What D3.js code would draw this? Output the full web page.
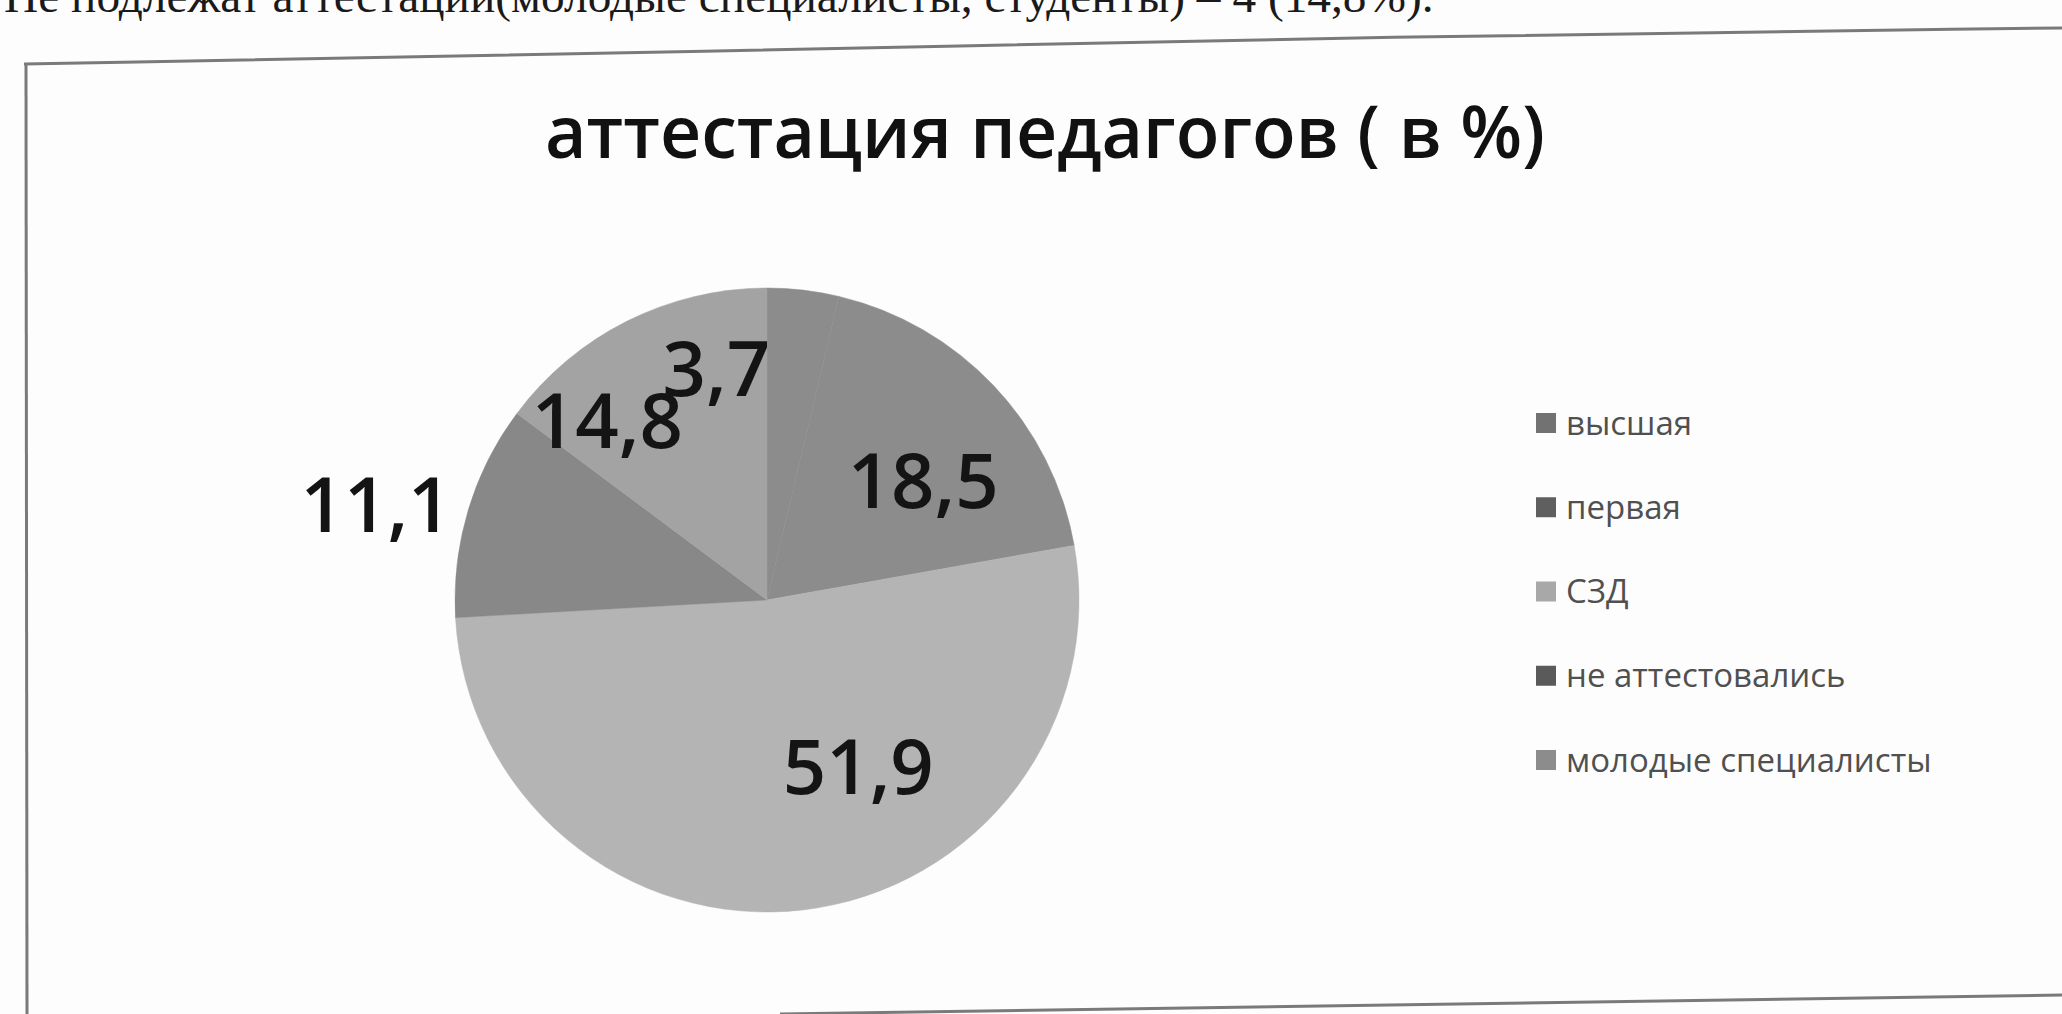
<!DOCTYPE html>
<html>
<head>
<meta charset="utf-8">
<script src="https://cdn.jsdelivr.net/npm/d3@7"></script>
<style>
  html, body { margin: 0; padding: 0; background: #fdfdfd; }
  svg { display: block; }
</style>
</head>
<body>
<svg id="chart" width="2062" height="1014"></svg>
<script>
// ---- data ----
const categories = ["высшая", "первая", "СЗД", "не аттестовались", "молодые специалисты"];
const values = [3.7, 18.5, 51.9, 11.1, 14.8];
const sliceColors = ["#8c8c8c", "#8c8c8c", "#b4b4b4", "#888888", "#a3a3a3"];
const legendColors = ["#727272", "#5f5f5f", "#a8a8a8", "#5a5a5a", "#8c8c8c"];
const chartTitle = "аттестация педагогов ( в %)";
const pageText = "Не подлежат аттестации(молодые специалисты, студенты) – 4 (14,8%).";

// ---- layout ----
const W = 2062, H = 1014;
const cx = 767, cy = 600, R = 312;
// per-slice label placement (Excel "best fit"): angle shift in degrees, radius factor
const labelShift = [-19, 6, -22, -3, -15];
const labelRadius = [0.76, 0.63, 0.61, 1.29, 0.77];

const svg = d3.select("#chart");

function fitWidth(t, target) {
  const w = t.node().getComputedTextLength();
  const fs = +t.attr("font-size");
  t.attr("font-size", fs * target / w);
}

// page text line above the chart (cut at the top edge as in the scan)
const pt = svg.append("text")
  .attr("x", 4).attr("y", 12)
  .attr("font-family", "'Liberation Serif', 'Times New Roman', serif")
  .attr("font-size", 48)
  .attr("fill", "#1a1a1a")
  .text(pageText);
fitWidth(pt, 1430);

// frame of the chart object (slightly skewed by the scan)
const frame = svg.append("g").attr("fill", "none").attr("stroke", "#7a7a7a").attr("stroke-width", 3);
frame.append("path").attr("d", d3.line().curve(d3.curveBasis)([[24, 64], [700, 52], [1400, 36], [W, 28]]));
frame.append("line").attr("x1", 26).attr("y1", 63).attr("x2", 27).attr("y2", H);
frame.append("line").attr("x1", 780).attr("y1", H).attr("x2", W).attr("y2", 995);

// title
const title = svg.append("text")
  .attr("x", 1045).attr("y", 158)
  .attr("text-anchor", "middle")
  .attr("font-family", "'Open Sans', sans-serif")
  .attr("font-weight", 600)
  .attr("font-size", 56)
  .attr("fill", "#111")
  .text(chartTitle);
fitWidth(title, 1000);

// pie
const pie = d3.pie().sort(null).value(d => d).startAngle(0).endAngle(2 * Math.PI);
const arcs = pie(values);
const arc = d3.arc().innerRadius(0).outerRadius(R);
const color = d3.scaleOrdinal().domain(categories).range(sliceColors);

const g = svg.append("g").attr("transform", `translate(${cx},${cy})`);
g.selectAll("path.slice")
  .data(arcs)
  .join("path")
  .attr("class", "slice")
  .attr("d", arc)
  .attr("fill", (d, i) => color(categories[i]))
  .attr("stroke", (d, i) => color(categories[i]))
  .attr("stroke-width", 0.5);

// data labels
const locale = d3.formatLocale({ decimal: ",", thousands: " ", grouping: [3], currency: ["", ""] });
const fmt = locale.format(".1f");
const labelFont = 76;
g.selectAll("text.lbl")
  .data(arcs)
  .join("text")
  .attr("class", "lbl")
  .each(function (d, i) {
    const a = (d.startAngle + d.endAngle) / 2 + labelShift[i] * Math.PI / 180;
    const r = R * labelRadius[i];
    d3.select(this)
      .attr("x", r * Math.sin(a))
      .attr("y", -r * Math.cos(a))
      .attr("dy", "0.36em");
  })
  .attr("text-anchor", "middle")
  .attr("font-family", "'Open Sans', sans-serif")
  .attr("font-weight", 600)
  .attr("font-size", labelFont)
  .attr("fill", "#141414")
  .text(d => fmt(d.value));

// legend
const ly = d3.scalePoint().domain(categories).range([423, 760]);
const lg = svg.append("g");
const items = lg.selectAll("g.item").data(categories).join("g").attr("class", "item")
  .attr("transform", d => `translate(1536,${ly(d)})`);
items.append("rect")
  .attr("x", 0).attr("y", -10).attr("width", 20).attr("height", 20)
  .attr("fill", (d, i) => legendColors[i]);
items.append("text")
  .attr("x", 30).attr("y", 0).attr("dy", "0.35em")
  .attr("font-family", "'Open Sans', sans-serif")
  .attr("font-size", 33)
  .attr("fill", "#505050")
  .text(d => d);
</script>
</body>
</html>
